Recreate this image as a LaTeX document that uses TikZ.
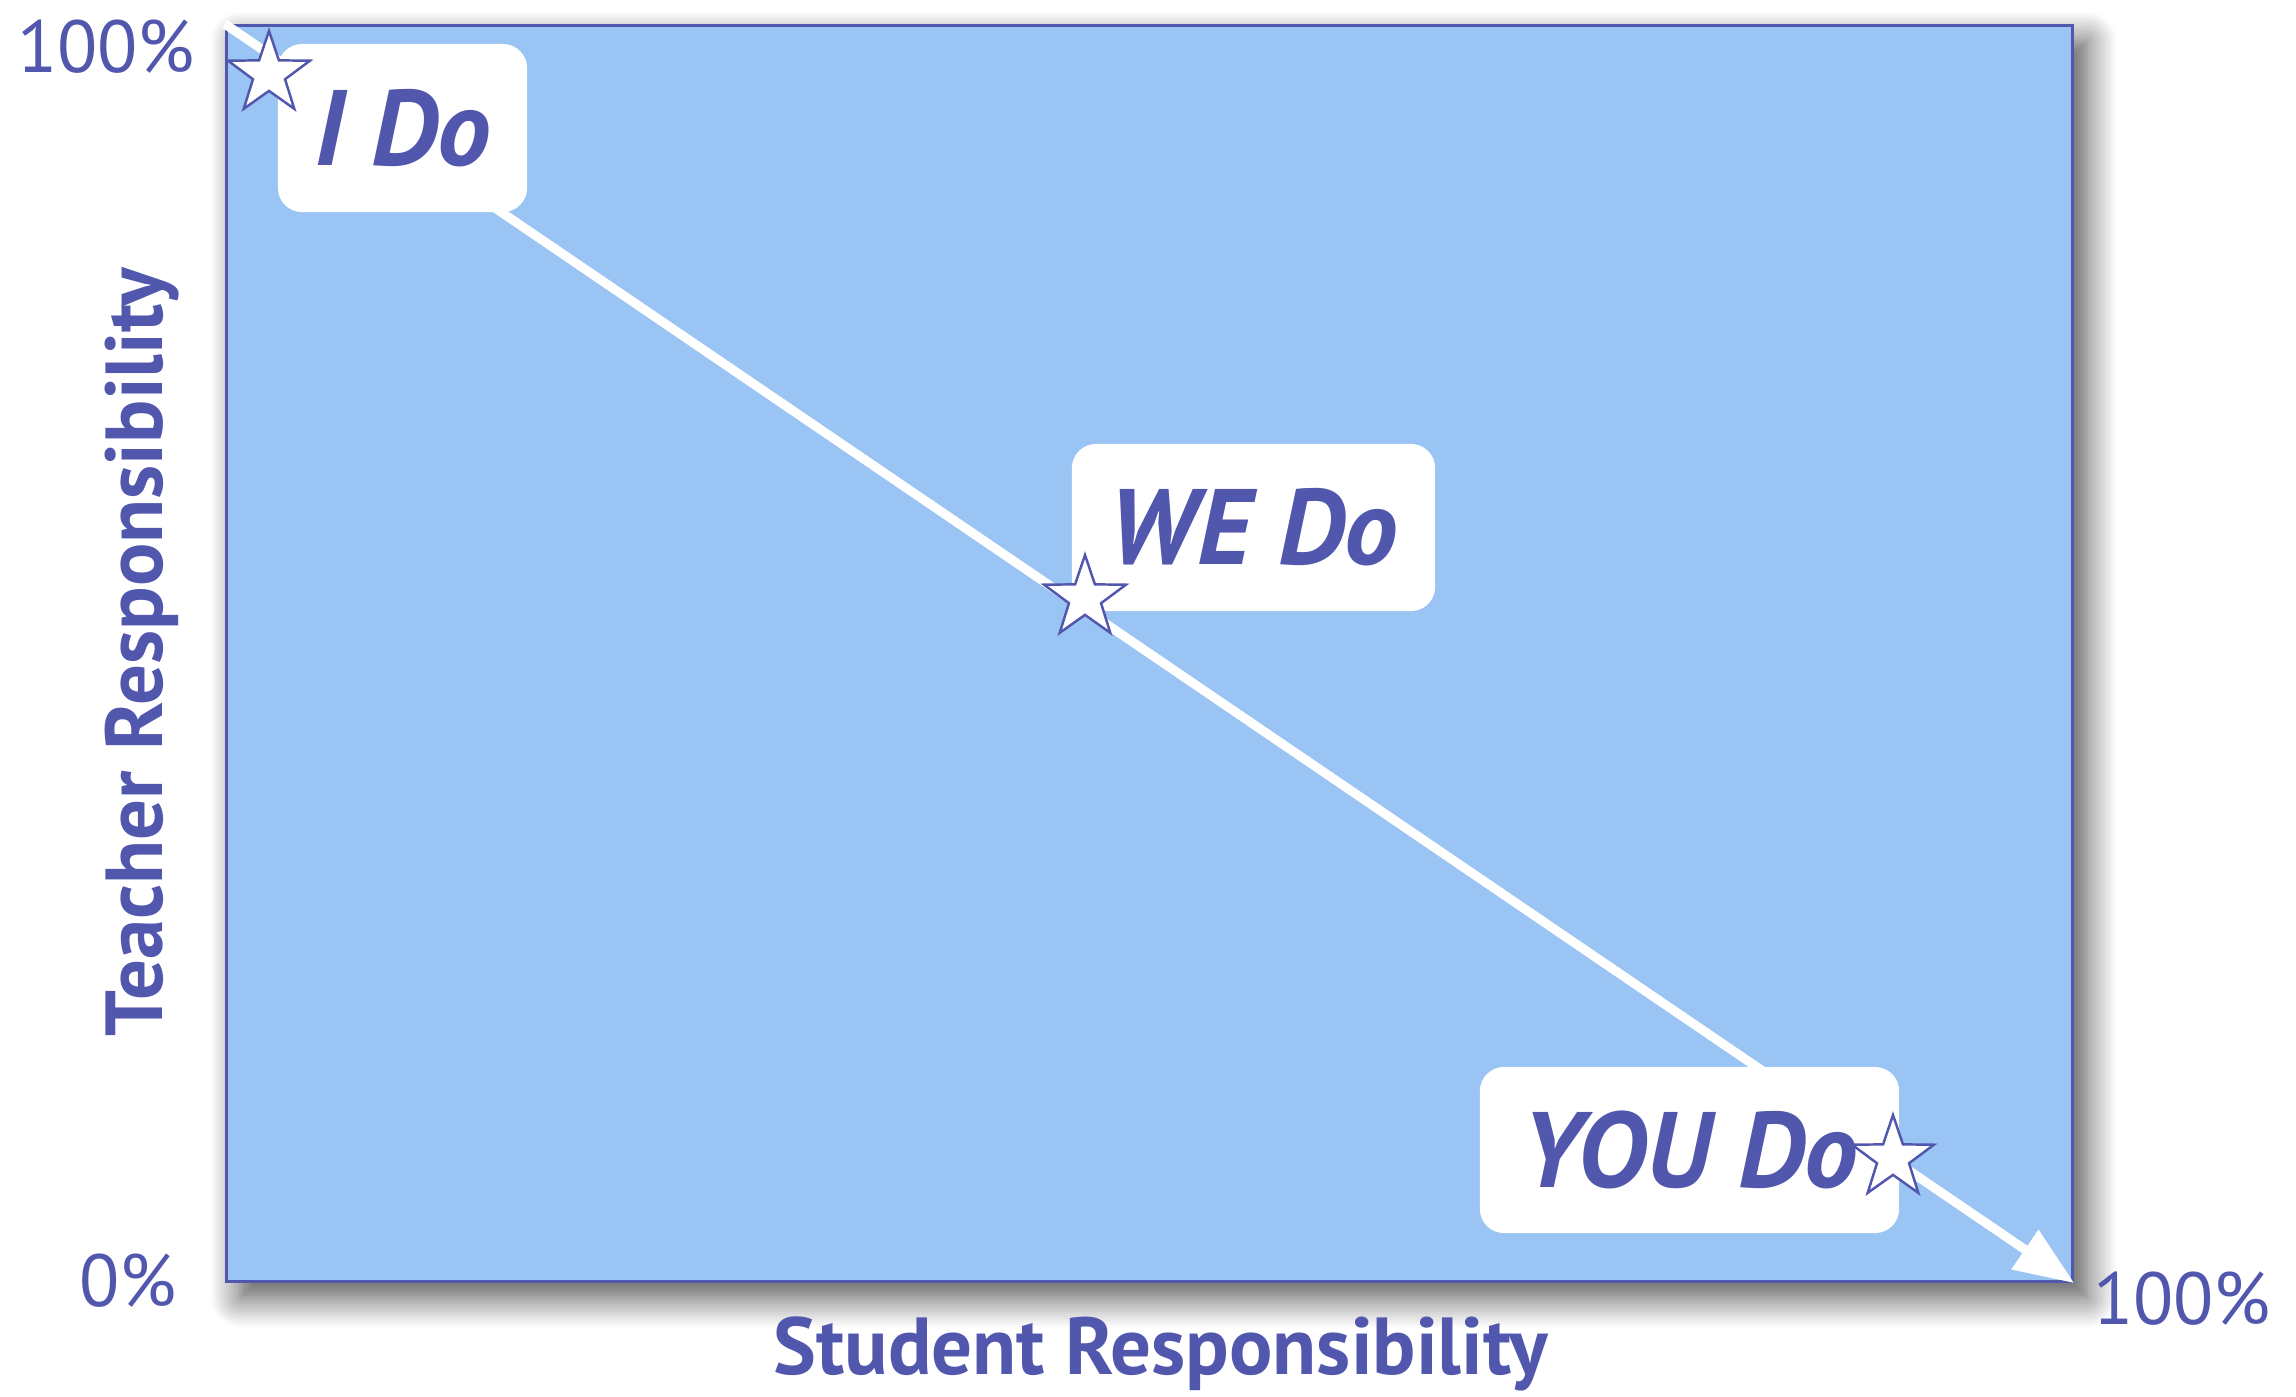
\documentclass[tikz,border=0pt]{standalone}
\usepackage{fontspec}
\setmainfont{PT Sans}
\usetikzlibrary{shapes.geometric,arrows.meta,shadows.blur}
\definecolor{ink}{RGB}{82,87,174}
\definecolor{plotblue}{RGB}{153,196,243}
\tikzset{
  plotbox/.style={draw=ink, line width=1pt, fill=plotblue, inner sep=0pt,
    blur shadow={shadow xshift=0.14cm, shadow yshift=-0.16cm, shadow blur radius=0.3cm, shadow blur steps=12, shadow opacity=70}},
  stagebox/.style={fill=white, rounded corners=0.24cm, inner sep=0pt, text=ink,
    font=\fontsize{30.5}{34}\selectfont\bfseries\itshape},
  starmark/.style={star, star points=5, star point ratio=2.55, draw=ink, line width=0.7pt,
    fill=white, inner sep=0pt, minimum size=0.86cm},
  pct/.style={text=ink, font=\fontsize{21}{25}\selectfont, inner sep=0pt},
  axislabel/.style={text=ink, font=\fontsize{23}{27}\selectfont\bfseries, inner sep=0pt},
  flow/.style={draw=white, line width=2.6pt, -{Triangle[length=17pt,width=13pt]}}
}
\begin{document}
\begin{tikzpicture}[x=0.01cm, y=-0.01cm]
\useasboundingbox (0,0) rectangle (2296,1396);
\node[plotbox, minimum width=18.45cm, minimum height=12.55cm] (plot) at (1149.5,653.5) {};
\draw[flow] (plot.north west) -- (plot.south east);
\node[stagebox, minimum width=2.49cm, minimum height=1.68cm] (ido) at (402.5,128) {I Do};
\node[stagebox, minimum width=3.63cm, minimum height=1.67cm] (wedo) at (1253.5,527.5) {WE Do};
\node[stagebox, minimum width=4.19cm, minimum height=1.66cm] (youdo) at (1689.5,1150) {YOU Do};
\node[starmark] (s1) at (269,74) {};
\node[starmark] (s2) at (1085,598) {};
\node[starmark] (s3) at (1893,1158) {};
\node[pct] (t100) at (106,47) {100\%};
\node[pct] (t0) at (128,1281) {0\%};
\node[pct] (s100) at (2182,1299) {100\%};
\node[axislabel] (xlab) at (1161,1354) {Student Responsibility};
\node[axislabel, rotate=90] (ylab) at (142,652) {Teacher Responsibility};
\end{tikzpicture}
\end{document}
